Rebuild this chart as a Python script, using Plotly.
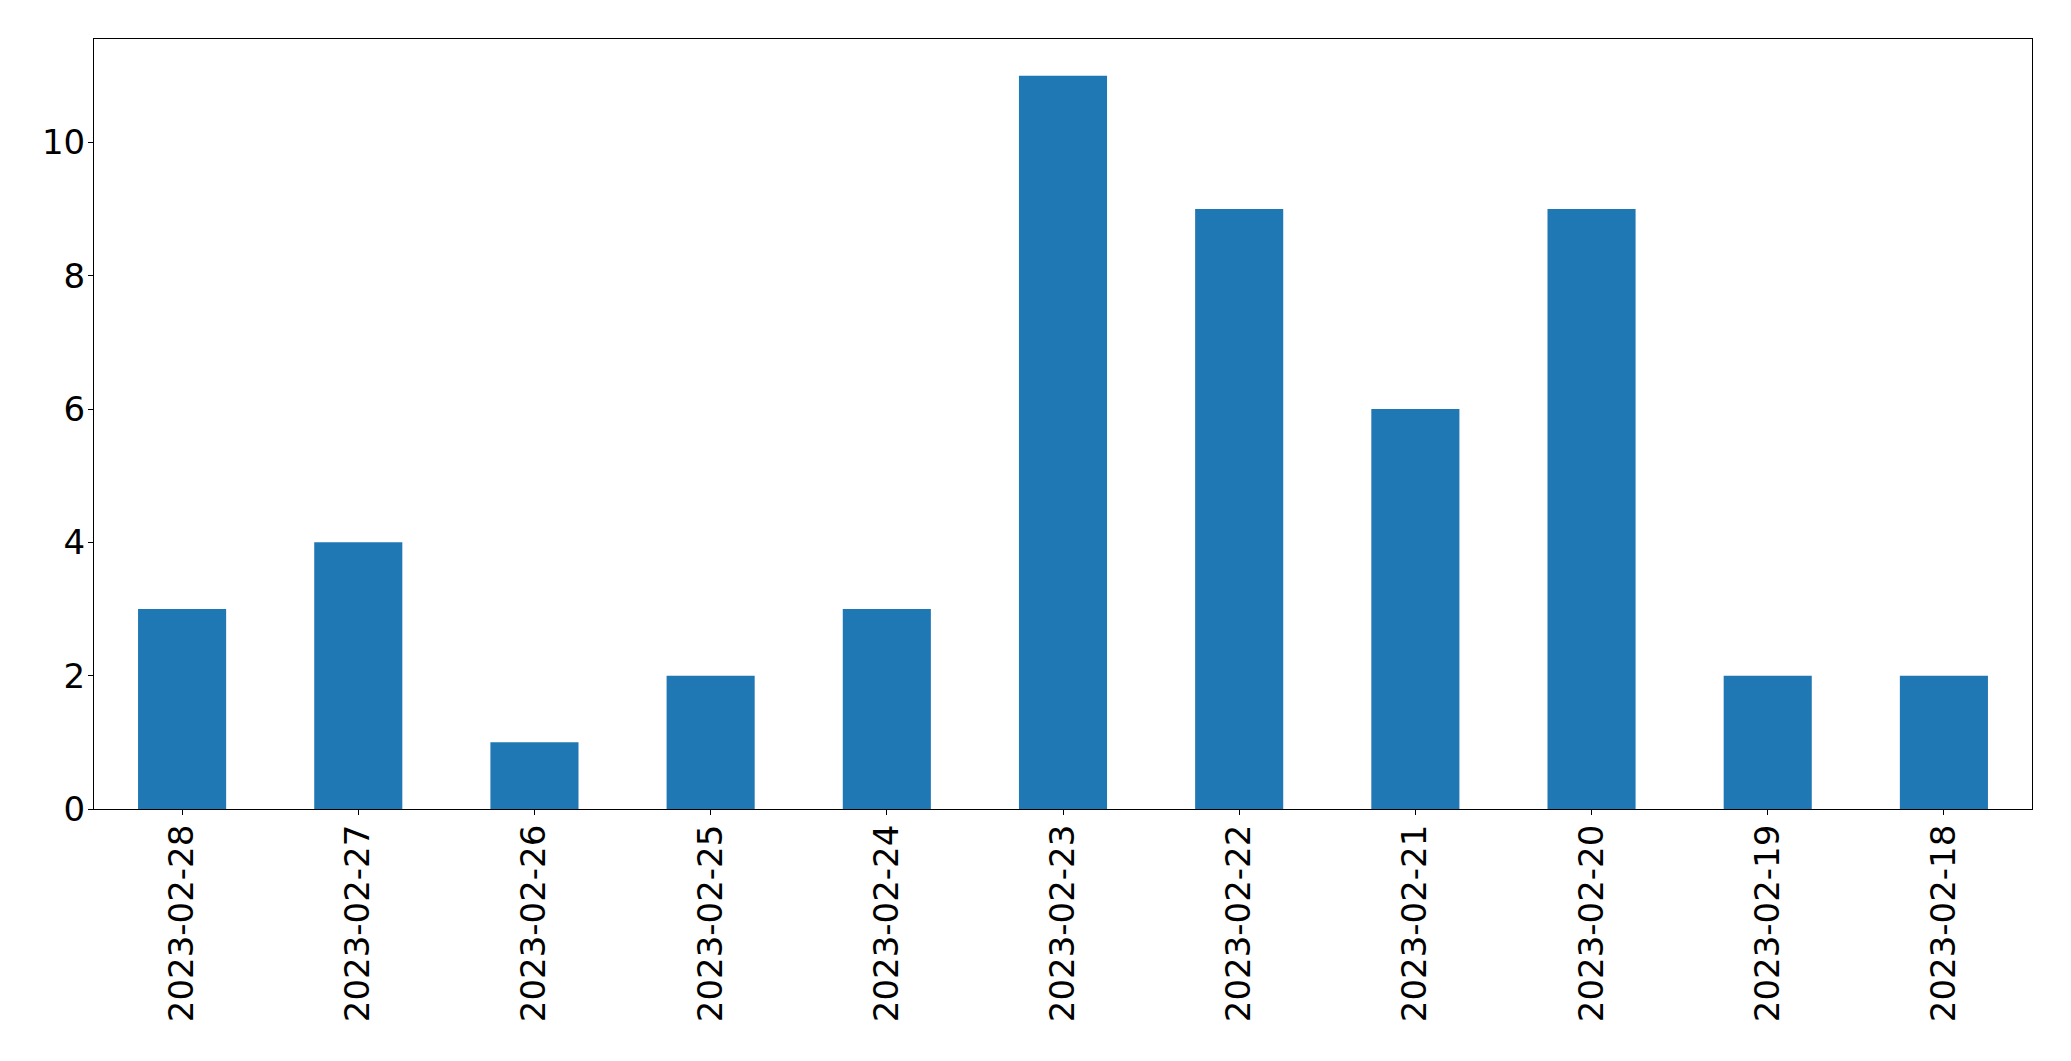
import plotly.graph_objects as go

dates = ["2023-02-28", "2023-02-27", "2023-02-26", "2023-02-25", "2023-02-24",
         "2023-02-23", "2023-02-22", "2023-02-21", "2023-02-20", "2023-02-19", "2023-02-18"]
counts = [3, 4, 1, 2, 3, 11, 9, 6, 9, 2, 2]
y_ticks = [0, 2, 4, 6, 8, 10]

fig = go.Figure(go.Bar(x=dates, y=counts, width=0.5, marker=dict(color="#1f77b4", line=dict(width=0))))

fig.update_layout(
    width=2071, height=1061,
    margin=dict(l=94, r=39, t=39, b=252),
    paper_bgcolor="white", plot_bgcolor="white",
    font=dict(family="DejaVu Sans", size=34, color="black"),
    showlegend=False,
)
fig.update_xaxes(
    type="category", range=[-0.5, 10.5],
    showline=True, linecolor="black", linewidth=1.1, mirror=True,
    ticks="outside", ticklen=5, tickwidth=1.1, tickcolor="black",
    tickangle=-90, showgrid=False, zeroline=False, ticklabelstandoff=-4,
)
fig.update_yaxes(
    range=[0, 11.55], tickvals=y_ticks,
    showline=True, linecolor="black", linewidth=1.1, mirror=True,
    ticks="outside", ticklen=5, tickwidth=1.1, tickcolor="black",
    showgrid=False, zeroline=False, ticklabelstandoff=-4,
)

fig.write_html("out.html")
